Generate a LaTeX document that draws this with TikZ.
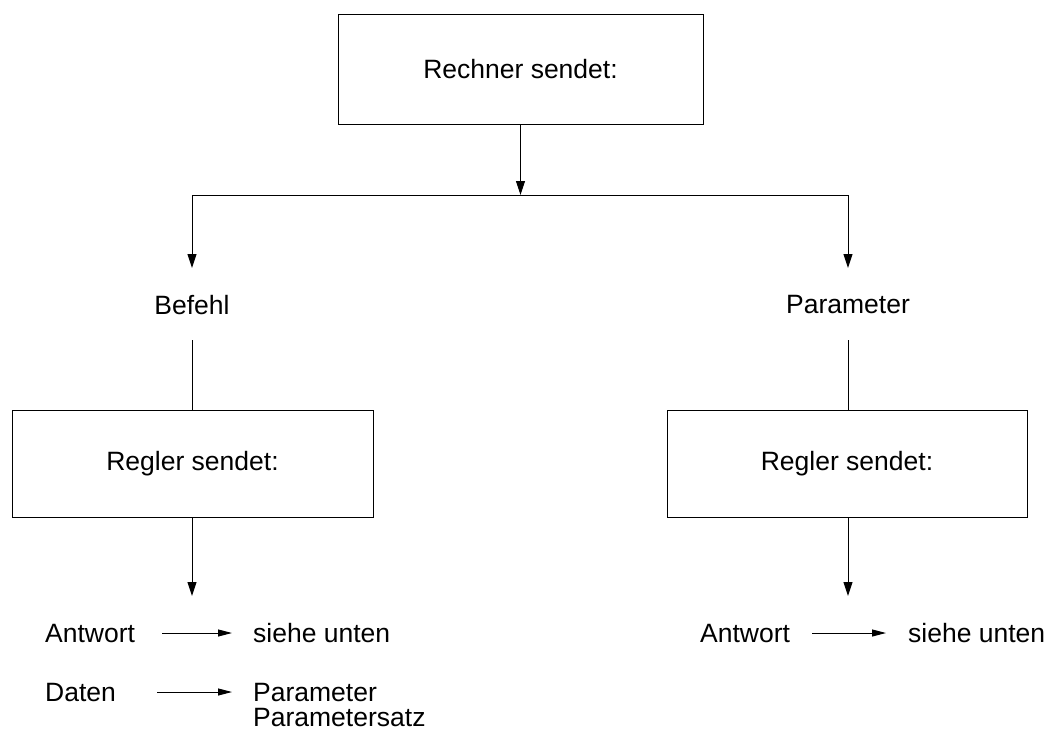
\documentclass[tikz,border=0pt]{standalone}
\usepackage{fontspec}
\setmainfont{Liberation Sans}
\usetikzlibrary{arrows.meta}
\begin{document}
\begin{tikzpicture}[x=1pt,y=-1pt,
  every node/.style={font=\fontsize{26.5}{30}\selectfont, inner sep=0pt},
  box/.style={draw, line width=1pt, minimum width=#1, minimum height=107pt},
  lbl/.style={anchor=base west},
  conn/.style={line width=1pt},
  arr/.style={conn, -{Triangle[length=14pt,width=9pt]}},
  harr/.style={conn, -{Triangle[length=14pt,width=7pt]}}]
\useasboundingbox (0,0) rectangle (1049,731);

% top box and branch
\node[box=365pt, minimum height=110pt] (rech) at (520.5,69) {Rechner sendet:};
\coordinate (junc) at (520.5,195);
\coordinate (jl) at (192,195);
\coordinate (jr) at (848,195);
\draw[arr] (rech.south) -- (junc);
\draw[conn] (jl) -- (jr);

% labels of the two branches
\node (bef) at (192,305) {Befehl};
\node (par) at (848,305) {Parameter};
\coordinate (befin) at (192,268);
\coordinate (parin) at (848,268);
\coordinate (befout) at (192,340);
\coordinate (parout) at (848,340);
\draw[arr] (jl) -- (befin);
\draw[arr] (jr) -- (parin);

% answer boxes
\node[box=361pt] (rl) at (192.5,463.5) {Regler sendet:};
\node[box=360pt] (rr) at (847,463.5) {Regler sendet:};
\draw[conn] (befout) -- (befout |- rl.north);
\draw[conn] (parout) -- (parout |- rr.north);

% replies below the boxes
\coordinate (al) at (192,596);
\coordinate (ar) at (848,596);
\draw[arr] (al |- rl.south) -- (al);
\draw[arr] (ar |- rr.south) -- (ar);

\node[lbl] (antl) at (45,642) {Antwort};
\node[lbl] (siel) at (253,642) {siehe unten};
\coordinate (a1) at (162,633);
\coordinate (a2) at (232,633);
\draw[harr] (a1) -- (a2);

\node[lbl] (dat) at (45,701) {Daten};
\node[lbl] (par1) at (253,701) {Parameter};
\node[lbl] (par2) at (253,726) {Parametersatz};
\coordinate (d1) at (157,692);
\coordinate (d2) at (232,692);
\draw[harr] (d1) -- (d2);

\node[lbl] (antr) at (700,642) {Antwort};
\node[lbl] (sier) at (908,642) {siehe unten};
\coordinate (b1) at (812,633);
\coordinate (b2) at (886,633);
\draw[harr] (b1) -- (b2);
\end{tikzpicture}
\end{document}
